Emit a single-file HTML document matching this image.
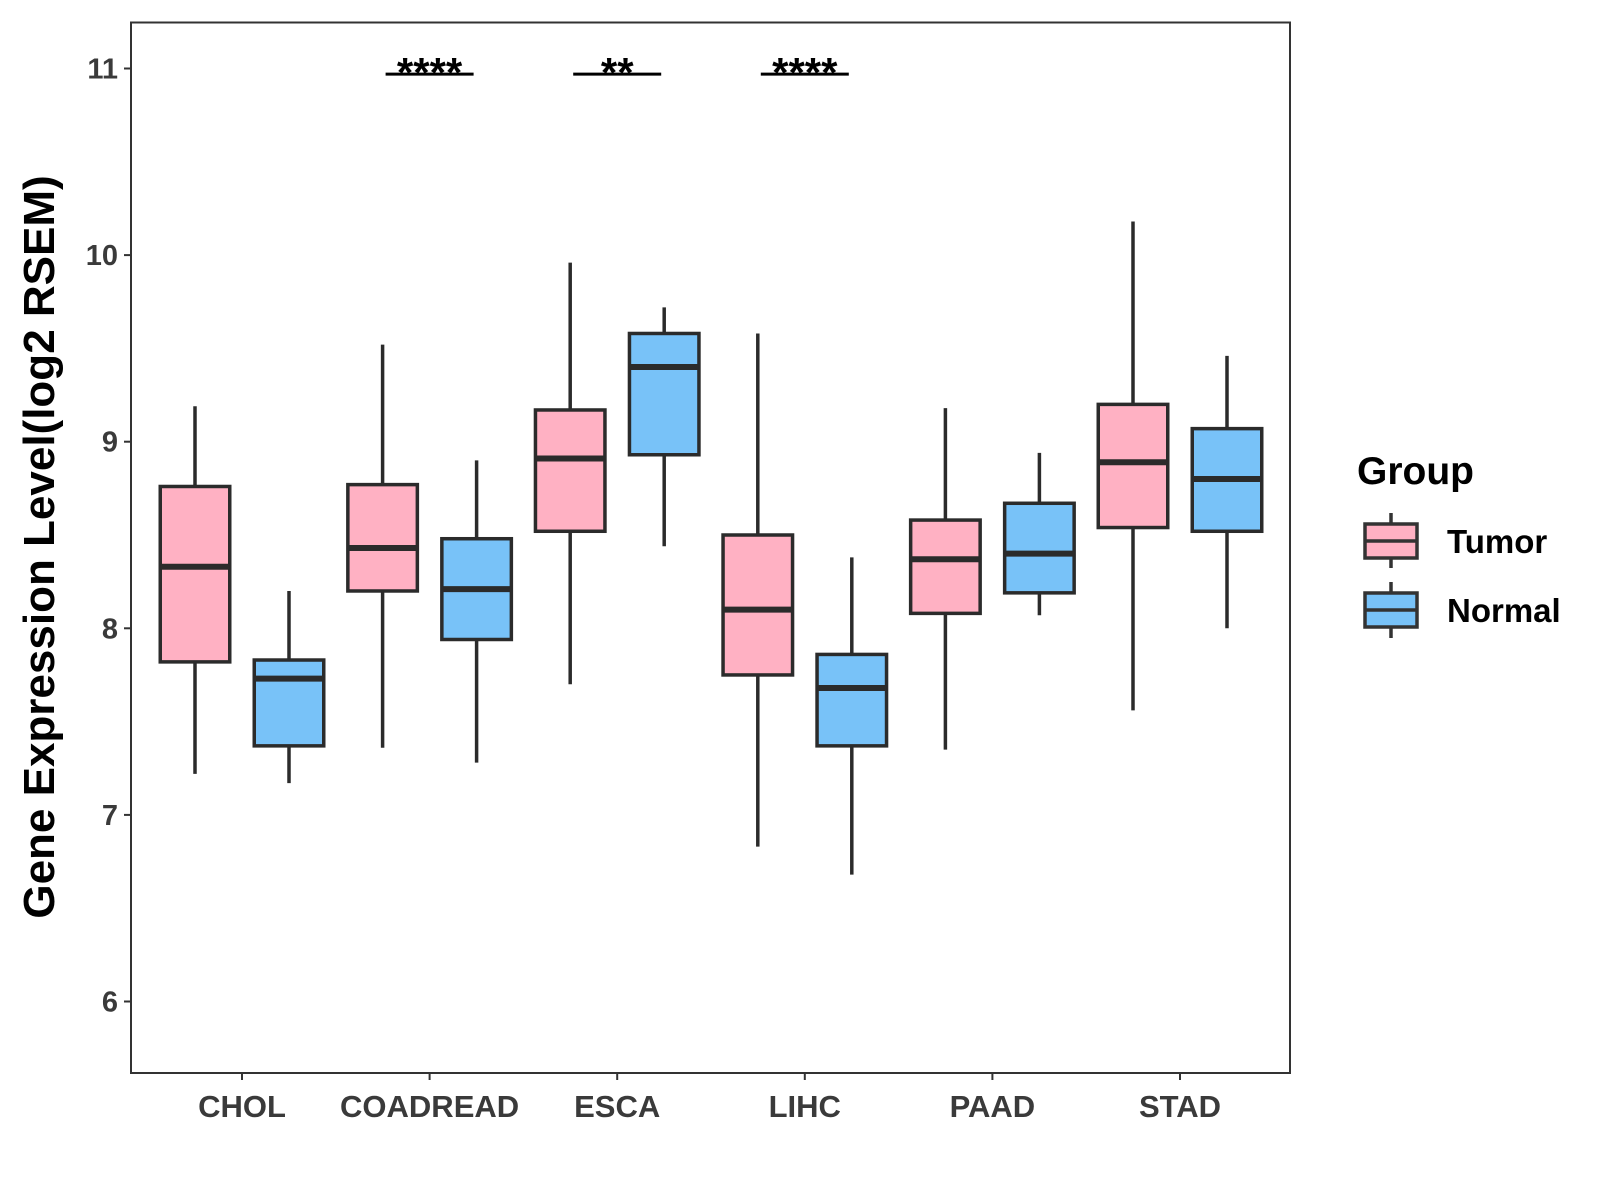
<!DOCTYPE html>
<html><head><meta charset="utf-8"><style>
html,body{margin:0;padding:0;background:#fff;}
svg{display:block;font-family:"Liberation Sans",Arial,sans-serif;}
</style></head><body>
<svg id="chart" width="1600" height="1200" viewBox="0 0 1600 1200" xmlns="http://www.w3.org/2000/svg">
<rect x="0" y="0" width="1600" height="1200" fill="#fff"/>
<g id="plot"></g>
<rect x="131" y="22.5" width="1159" height="1050.5" fill="none" stroke="#333" stroke-width="2"/>
<text transform="translate(54,547) rotate(-90)" text-anchor="middle" font-size="44" font-weight="bold" fill="#000">Gene Expression Level(log2 RSEM)</text>
<g>
<text x="1357" y="484" font-size="39" font-weight="bold" fill="#000">Group</text>
<g>
<line x1="1391" y1="513" x2="1391" y2="568" stroke="#333" stroke-width="3.5"/>
<rect x="1365" y="524" width="52" height="34" fill="#FFB1C3" stroke="#333" stroke-width="3.5"/>
<line x1="1365" y1="541" x2="1417" y2="541" stroke="#333" stroke-width="3.5"/>
<text x="1447" y="553" font-size="33" font-weight="bold" fill="#000">Tumor</text>
</g>
<g>
<line x1="1391" y1="582" x2="1391" y2="638" stroke="#333" stroke-width="3.5"/>
<rect x="1365" y="593" width="52" height="34" fill="#78C2F8" stroke="#333" stroke-width="3.5"/>
<line x1="1365" y1="610" x2="1417" y2="610" stroke="#333" stroke-width="3.5"/>
<text x="1447" y="622" font-size="33" font-weight="bold" fill="#000">Normal</text>
</g>
</g>
</svg>
<script>
const categories = ["CHOL","COADREAD","ESCA","LIHC","PAAD","STAD"];
const tumorLow  = [7.22,7.36,7.70,6.83,7.35,7.56];
const tumorQ1   = [7.82,8.20,8.52,7.75,8.08,8.54];
const tumorMed  = [8.33,8.43,8.91,8.10,8.37,8.89];
const tumorQ3   = [8.76,8.77,9.17,8.50,8.58,9.20];
const tumorHigh = [9.19,9.52,9.96,9.58,9.18,10.18];
const normalLow  = [7.17,7.28,8.44,6.68,8.07,8.00];
const normalQ1   = [7.37,7.94,8.93,7.37,8.19,8.52];
const normalMed  = [7.73,8.21,9.40,7.68,8.40,8.80];
const normalQ3   = [7.83,8.48,9.58,7.86,8.67,9.07];
const normalHigh = [8.20,8.90,9.72,8.38,8.94,9.46];
const yTicks = [6,7,8,9,10,11];
const sigLabels = ["","****","**","****","",""];
const sigLevel = 10.97;

const NS="http://www.w3.org/2000/svg";
const g=document.getElementById('plot');
function y(v){return 1001.5-(v-6)*186.6;}
function x(i){return 242+i*187.6;}
function mk(t,a){const e=document.createElementNS(NS,t);for(const k in a)e.setAttribute(k,a[k]);g.appendChild(e);return e;}
const bw=69.5, off=47;
yTicks.forEach(t=>{
  const l=mk('line',{x1:124,x2:131,y1:y(t),y2:y(t),stroke:'#333','stroke-width':2});
  
  
  const tx=mk('text',{x:118,y:y(t)+10,'text-anchor':'end','font-size':29,'font-weight':'bold',fill:'#3a3a3a'});
  tx.textContent=t;
  
  
});
function box(cx,lo,q1,md,q3,hi,fill,name){
  const w=mk('line',{x1:cx,x2:cx,y1:y(lo),y2:y(hi),stroke:'#2b2b2b','stroke-width':3.5});
  
  
  const r=mk('rect',{x:cx-bw/2,y:y(q3),width:bw,height:y(q1)-y(q3),fill:fill,stroke:'#2b2b2b','stroke-width':3.5});
  
  
  const m=mk('line',{x1:cx-bw/2,x2:cx+bw/2,y1:y(md),y2:y(md),stroke:'#2b2b2b','stroke-width':6});
  
  
}
categories.forEach((c,i)=>{
  const cx=x(i);
  const tk=mk('line',{x1:cx,x2:cx,y1:1073,y2:1080,stroke:'#333','stroke-width':2});
  
  
  const tl=mk('text',{x:cx,y:1117,'text-anchor':'middle','font-size':31,'font-weight':'bold',fill:'#3a3a3a'});
  tl.textContent=c;
  
  
  box(cx-off,tumorLow[i],tumorQ1[i],tumorMed[i],tumorQ3[i],tumorHigh[i],'#FFB1C3','tumor-'+c.toLowerCase());
  box(cx+off,normalLow[i],normalQ1[i],normalMed[i],normalQ3[i],normalHigh[i],'#78C2F8','normal-'+c.toLowerCase());
  if(sigLabels[i]){
    const sl=mk('line',{x1:cx-44,x2:cx+44,y1:y(sigLevel),y2:y(sigLevel),stroke:'#000','stroke-width':3});
    
    
    const st=mk('text',{x:cx,y:y(sigLevel)+13,'text-anchor':'middle','font-size':42,'font-weight':'bold',fill:'#000'});
    st.textContent=sigLabels[i];
    
    
  }
});
</script>
</body></html>
